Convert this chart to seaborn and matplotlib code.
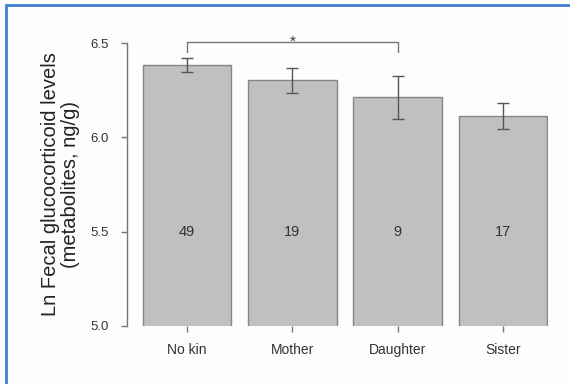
import matplotlib
matplotlib.use("Agg")
import matplotlib.pyplot as plt
from matplotlib.patches import Rectangle
import seaborn as sns
import pandas as pd

# Group means (ln ng/g), standard errors and sample sizes
groups = ["No kin", "Mother", "Daughter", "Sister"]
means = [6.385, 6.303, 6.213, 6.115]
errors = [0.037, 0.064, 0.115, 0.068]
counts = [49, 19, 9, 17]
yticks = [5.0, 5.5, 6.0, 6.5]

sns.set_theme(style="white")
plt.rcParams["font.family"] = ["Liberation Sans", "DejaVu Sans"]

df = pd.DataFrame({"group": groups, "mean": means})

fig = plt.figure(figsize=(5.7, 3.84), dpi=100, facecolor="#fbfdff")
ax = fig.add_axes([0.2233, 0.152, 0.738, 0.735])
ax.set_facecolor("none")

sns.barplot(data=df, x="group", y="mean", order=groups, color="#c0c0c0",
            saturation=1, width=0.84, edgecolor="#858585", linewidth=1.0,
            errorbar=None, ax=ax)

centers = [p.get_x() + p.get_width() / 2 for p in ax.patches]
ax.errorbar(centers, means, yerr=errors, fmt="none", ecolor="#555555",
            elinewidth=1.0, capsize=4, capthick=1.0, zorder=5)

# sample sizes inside the bars
for cx, n in zip(centers, counts):
    ax.text(cx, 5.5, str(n), ha="center", va="center", fontsize=10.5,
            color="#333333")

ax.set_ylim(5.0, 6.5)
ax.set_xlim(-0.57, 3.43)
ax.set_yticks(yticks)
ax.set_yticklabels([f"{t:.1f}" for t in yticks])
ax.set_xlabel("")
ax.set_ylabel("Ln Fecal glucocorticoid levels\n(metabolites, ng/g)",
              fontsize=14.5, color="#222222", labelpad=7.5, linespacing=1.1)

for s in ["top", "right", "bottom"]:
    ax.spines[s].set_visible(False)
ax.spines["left"].set_color("#777777")
ax.spines["left"].set_linewidth(1.0)
ax.spines["left"].set_bounds(5.0, 6.5)

ax.tick_params(axis="y", which="both", left=True, length=4, width=1.0,
               color="#777777", pad=9, labelsize=9.5, labelcolor="#333333")
ax.tick_params(axis="x", which="both", bottom=True, length=4.5, width=1.0,
               color="#777777", pad=8, labelsize=10, labelcolor="#333333")

# significance bracket between No kin and Daughter
y_br, y_end = 6.508, 6.455
ax.plot([centers[0], centers[0], centers[2], centers[2]],
        [y_end, y_br, y_br, y_end], color="#777777", lw=1.0, clip_on=False)
ax.text((centers[0] + centers[2]) / 2, y_br + 0.002, "*", ha="center",
        va="center", fontsize=11, color="#333333", clip_on=False)

# blue frame along the top and left edges of the figure
fig.patches.append(Rectangle((6 / 570, -0.1), 1.2, 1.1 - 5 / 384,
                             transform=fig.transFigure, fill=False,
                             edgecolor="#3f7fcf", linewidth=2.0))

fig.savefig("out.png", dpi=100, facecolor=fig.get_facecolor())
